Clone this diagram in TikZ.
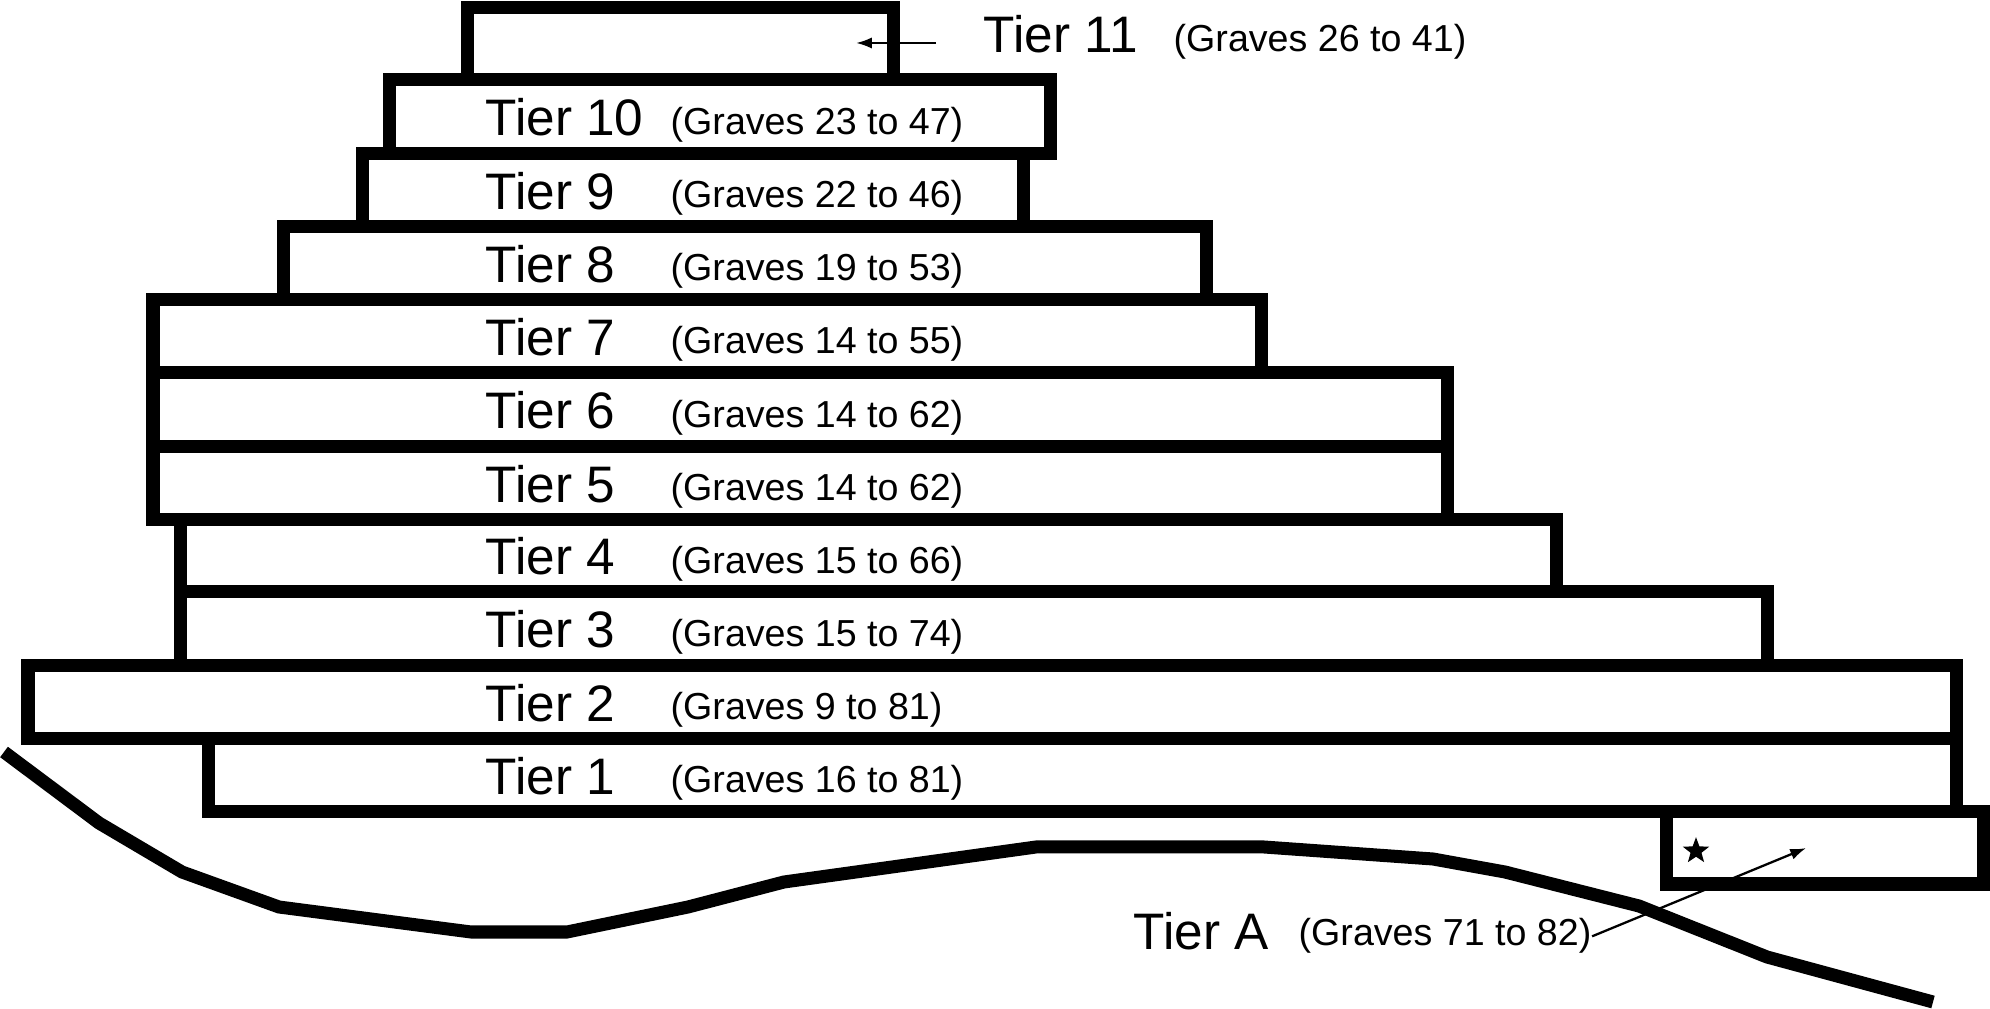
\documentclass[tikz,border=0pt]{standalone}
\usepackage{fontspec}
\setmainfont{Liberation Sans}
\usetikzlibrary{arrows.meta,shapes.geometric}

\tikzset{
  tierbox/.style={draw=black,line width=3.7pt},
  tierlabel/.style={anchor=base west,inner sep=0pt,font=\fontsize{14.6}{17}\selectfont},
  graveslabel/.style={anchor=base west,inner sep=0pt,font=\fontsize{10.7}{13}\selectfont},
  pointer/.style={black,line width=0.65pt,-{Latex[length=4.5pt,width=3.2pt]}}
}

\begin{document}
\begin{tikzpicture}[scale=0.1]
            \useasboundingbox (0,0) rectangle (199,-100.9);
            \draw [tierbox] (46.7,-0.75) rectangle (89.3,-8.0);
            \draw [tierbox] (38.9,-8.0) rectangle (105.0,-15.4);
            \draw [tierbox] (36.2,-15.4) rectangle (102.3,-22.7);
            \draw [tierbox] (28.3,-22.7) rectangle (120.6,-30.0);
            \draw [tierbox] (15.3,-30.0) rectangle (126.1,-37.3);
            \draw [tierbox] (15.3,-37.3) rectangle (144.7,-44.7);
            \draw [tierbox] (15.3,-44.7) rectangle (144.7,-52.0);
            \draw [tierbox] (18.0,-52.0) rectangle (155.6,-59.2);
            \draw [tierbox] (18.0,-59.2) rectangle (176.7,-66.6);
            \draw [tierbox] (2.8,-66.6) rectangle (195.6,-73.9);
            \draw [tierbox] (20.8,-73.9) rectangle (195.6,-81.2);
            \draw [tierbox] (166.6,-81.2) rectangle (198.3,-88.4);
            \draw [black,line width=3.7pt] (0.4,-75.2) -- (9.9,-82.3) -- (18.2,-87.2) -- (27.9,-90.7) -- (47.1,-93.2) -- (56.7,-93.2) -- (68.8,-90.7) -- (78.4,-88.2) -- (103.6,-84.7) -- (126.4,-84.7) -- (143.3,-85.9) -- (150.5,-87.2) -- (163.9,-90.6) -- (176.7,-95.7) -- (193.3,-100.2);
            \node [tierlabel] (t11) at (98.3,-5.3) {Tier 11};
            \node [graveslabel] (g11) at (117.3,-5.2) {(Graves 26 to 41)};
            \node [tierlabel] (t10) at (48.5,-13.6) {Tier 10};
            \node [graveslabel] (g10) at (67.0,-13.45) {(Graves 23 to 47)};
            \node [tierlabel] (t9) at (48.5,-20.95) {Tier 9};
            \node [graveslabel] (g9) at (67.0,-20.8) {(Graves 22 to 46)};
            \node [tierlabel] (t8) at (48.5,-28.25) {Tier 8};
            \node [graveslabel] (g8) at (67.0,-28.1) {(Graves 19 to 53)};
            \node [tierlabel] (t7) at (48.5,-35.55) {Tier 7};
            \node [graveslabel] (g7) at (67.0,-35.4) {(Graves 14 to 55)};
            \node [tierlabel] (t6) at (48.5,-42.9) {Tier 6};
            \node [graveslabel] (g6) at (67.0,-42.75) {(Graves 14 to 62)};
            \node [tierlabel] (t5) at (48.5,-50.25) {Tier 5};
            \node [graveslabel] (g5) at (67.0,-50.1) {(Graves 14 to 62)};
            \node [tierlabel] (t4) at (48.5,-57.5) {Tier 4};
            \node [graveslabel] (g4) at (67.0,-57.35) {(Graves 15 to 66)};
            \node [tierlabel] (t3) at (48.5,-64.8) {Tier 3};
            \node [graveslabel] (g3) at (67.0,-64.65) {(Graves 15 to 74)};
            \node [tierlabel] (t2) at (48.5,-72.15) {Tier 2};
            \node [graveslabel] (g2) at (67.0,-72.0) {(Graves 9 to 81)};
            \node [tierlabel] (t1) at (48.5,-79.45) {Tier 1};
            \node [graveslabel] (g1) at (67.0,-79.3) {(Graves 16 to 81)};
            \node [tierlabel] (tA) at (113.3,-95.0) {Tier A};
            \node [graveslabel] (gA) at (129.8,-94.6) {(Graves 71 to 82)};
            \node [star,star points=5,star point ratio=2.4,fill=black,inner sep=0pt,minimum size=2.76mm] (tAstar) at (169.6,-85.1) {};
            \coordinate (s11) at (93.6,-4.3);
            \coordinate (e11) at (85.6,-4.3);
            \coordinate (eA) at (180.6,-84.8);
            \draw [pointer] (s11) -- (e11);
            \draw [pointer] (gA.east) -- (eA);
        \end{tikzpicture}
\end{document}
